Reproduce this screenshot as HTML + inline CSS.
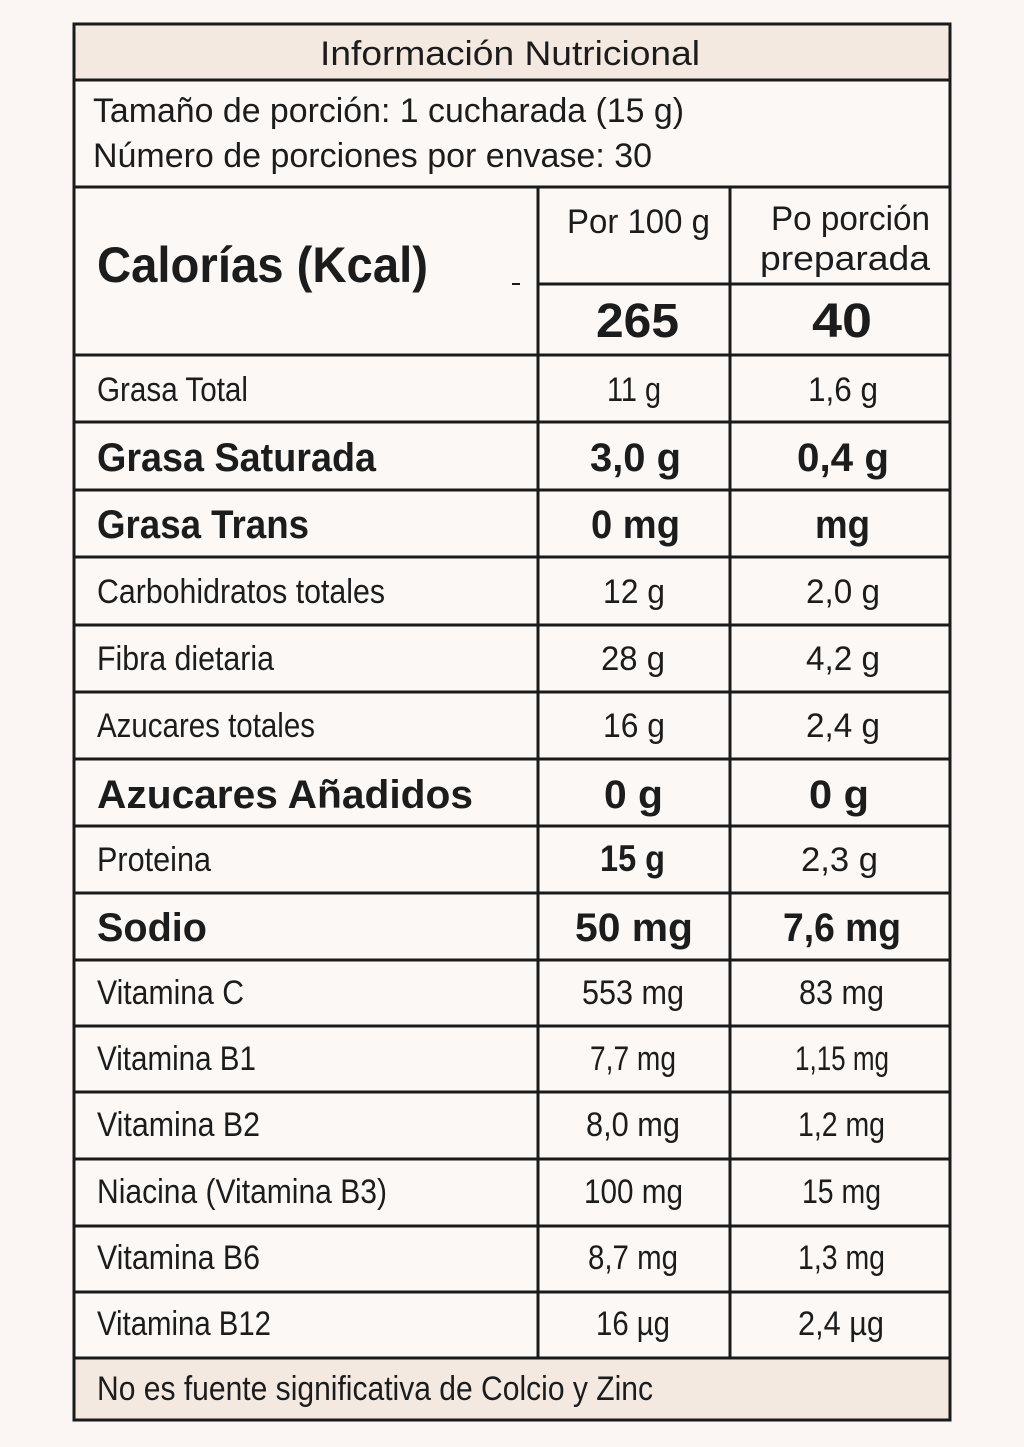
<!DOCTYPE html>
<html><head><meta charset="utf-8"><style>
html,body{margin:0;padding:0;background:#fbf5f3;}
svg{display:block}
text{font-family:"Liberation Sans",sans-serif;fill:#1c1c1c}
.n{font-size:34px}
.b{font-size:40px;font-weight:bold}
</style></head><body>
<svg width="1024" height="1447" viewBox="0 0 1024 1447" xmlns="http://www.w3.org/2000/svg">
<rect x="0" y="0" width="1024" height="1447" fill="#fbf5f3"/>
<rect x="74" y="24" width="876" height="1396" fill="#fcf8f5"/>
<rect x="74" y="24" width="876" height="56" fill="#f3e9e0"/>
<rect x="74" y="1358" width="876" height="62" fill="#f3e9e0"/>
<g stroke="#1a1a1a" stroke-width="3" fill="none">
<rect x="74" y="24" width="876" height="1396"/>
<line x1="74" y1="80" x2="950" y2="80"/>
<line x1="74" y1="187" x2="950" y2="187"/>
<line x1="538" y1="284" x2="950" y2="284"/>
<line x1="538" y1="187" x2="538" y2="1358"/>
<line x1="730" y1="187" x2="730" y2="1358"/>
<line x1="74" y1="355" x2="950" y2="355"/>
<line x1="74" y1="422" x2="950" y2="422"/>
<line x1="74" y1="490" x2="950" y2="490"/>
<line x1="74" y1="557" x2="950" y2="557"/>
<line x1="74" y1="625" x2="950" y2="625"/>
<line x1="74" y1="692" x2="950" y2="692"/>
<line x1="74" y1="759" x2="950" y2="759"/>
<line x1="74" y1="826" x2="950" y2="826"/>
<line x1="74" y1="893" x2="950" y2="893"/>
<line x1="74" y1="960" x2="950" y2="960"/>
<line x1="74" y1="1026" x2="950" y2="1026"/>
<line x1="74" y1="1092" x2="950" y2="1092"/>
<line x1="74" y1="1159" x2="950" y2="1159"/>
<line x1="74" y1="1226" x2="950" y2="1226"/>
<line x1="74" y1="1292" x2="950" y2="1292"/>
<line x1="74" y1="1358" x2="950" y2="1358"/>
<line x1="512" y1="284" x2="520" y2="284" stroke-width="2"/>
</g>
<text class="n" x="320" y="65" textLength="380" lengthAdjust="spacingAndGlyphs">Información Nutricional</text>
<text class="n" x="93" y="122" textLength="591" lengthAdjust="spacingAndGlyphs">Tamaño de porción: 1 cucharada (15 g)</text>
<text class="n" x="93" y="167" textLength="559" lengthAdjust="spacingAndGlyphs">Número de porciones por envase: 30</text>
<text class="b" x="97" y="282" style="font-size:50px" textLength="331" lengthAdjust="spacingAndGlyphs">Calorías (Kcal)</text>
<text class="n" x="567" y="233" textLength="143" lengthAdjust="spacingAndGlyphs">Por 100 g</text>
<text class="n" x="771" y="230" textLength="159" lengthAdjust="spacingAndGlyphs">Po porción</text>
<text class="n" x="760" y="270" textLength="170" lengthAdjust="spacingAndGlyphs">preparada</text>
<text class="b" x="596" y="337" style="font-size:48px" textLength="83" lengthAdjust="spacingAndGlyphs">265</text>
<text class="b" x="812" y="337" style="font-size:48px" textLength="60" lengthAdjust="spacingAndGlyphs">40</text>

<text class="n" x="97" y="401" textLength="151" lengthAdjust="spacingAndGlyphs">Grasa Total</text>
<text class="n" x="607" y="401" textLength="54" lengthAdjust="spacingAndGlyphs">11 g</text>
<text class="n" x="808" y="401" textLength="70" lengthAdjust="spacingAndGlyphs">1,6 g</text>

<text class="b" x="97" y="471" textLength="279" lengthAdjust="spacingAndGlyphs">Grasa Saturada</text>
<text class="b" x="590" y="471" textLength="91" lengthAdjust="spacingAndGlyphs">3,0 g</text>
<text class="b" x="797" y="471" textLength="92" lengthAdjust="spacingAndGlyphs">0,4 g</text>

<text class="b" x="97" y="538" textLength="212" lengthAdjust="spacingAndGlyphs">Grasa Trans</text>
<text class="b" x="591" y="538" textLength="89" lengthAdjust="spacingAndGlyphs">0 mg</text>
<text class="b" x="815" y="538" textLength="55" lengthAdjust="spacingAndGlyphs">mg</text>

<text class="n" x="97" y="603" textLength="288" lengthAdjust="spacingAndGlyphs">Carbohidratos totales</text>
<text class="n" x="603" y="603" textLength="62" lengthAdjust="spacingAndGlyphs">12 g</text>
<text class="n" x="806" y="603" textLength="74" lengthAdjust="spacingAndGlyphs">2,0 g</text>

<text class="n" x="97" y="670" textLength="177" lengthAdjust="spacingAndGlyphs">Fibra dietaria</text>
<text class="n" x="601" y="670" textLength="64" lengthAdjust="spacingAndGlyphs">28 g</text>
<text class="n" x="806" y="670" textLength="74" lengthAdjust="spacingAndGlyphs">4,2 g</text>

<text class="n" x="97" y="737" textLength="218" lengthAdjust="spacingAndGlyphs">Azucares totales</text>
<text class="n" x="603" y="737" textLength="62" lengthAdjust="spacingAndGlyphs">16 g</text>
<text class="n" x="806" y="737" textLength="74" lengthAdjust="spacingAndGlyphs">2,4 g</text>

<text class="b" x="97" y="808" textLength="376" lengthAdjust="spacingAndGlyphs">Azucares  Añadidos</text>
<text class="b" x="604" y="808" textLength="59" lengthAdjust="spacingAndGlyphs">0 g</text>
<text class="b" x="809" y="808" textLength="60" lengthAdjust="spacingAndGlyphs">0 g</text>

<text class="n" x="97" y="871" textLength="114" lengthAdjust="spacingAndGlyphs">Proteina</text>
<text class="b" x="600" y="871" style="font-size:37px" textLength="65" lengthAdjust="spacingAndGlyphs">15 g</text>
<text class="n" x="801" y="871" textLength="77" lengthAdjust="spacingAndGlyphs">2,3 g</text>

<text class="b" x="97" y="941" textLength="110" lengthAdjust="spacingAndGlyphs">Sodio</text>
<text class="b" x="575" y="941" textLength="118" lengthAdjust="spacingAndGlyphs">50 mg</text>
<text class="b" x="783" y="941" textLength="118" lengthAdjust="spacingAndGlyphs">7,6 mg</text>

<text class="n" x="97" y="1004" textLength="147" lengthAdjust="spacingAndGlyphs">Vitamina C</text>
<text class="n" x="582" y="1004" textLength="102" lengthAdjust="spacingAndGlyphs">553 mg</text>
<text class="n" x="799" y="1004" textLength="85" lengthAdjust="spacingAndGlyphs">83 mg</text>

<text class="n" x="97" y="1070" textLength="159" lengthAdjust="spacingAndGlyphs">Vitamina B1</text>
<text class="n" x="590" y="1070" textLength="86" lengthAdjust="spacingAndGlyphs">7,7 mg</text>
<text class="n" x="795" y="1070" textLength="94" lengthAdjust="spacingAndGlyphs">1,15 mg</text>

<text class="n" x="97" y="1136" textLength="163" lengthAdjust="spacingAndGlyphs">Vitamina B2</text>
<text class="n" x="586" y="1136" textLength="94" lengthAdjust="spacingAndGlyphs">8,0 mg</text>
<text class="n" x="798" y="1136" textLength="87" lengthAdjust="spacingAndGlyphs">1,2 mg</text>

<text class="n" x="97" y="1203" textLength="290" lengthAdjust="spacingAndGlyphs">Niacina (Vitamina B3)</text>
<text class="n" x="584" y="1203" textLength="99" lengthAdjust="spacingAndGlyphs">100 mg</text>
<text class="n" x="802" y="1203" textLength="79" lengthAdjust="spacingAndGlyphs">15 mg</text>

<text class="n" x="97" y="1269" textLength="163" lengthAdjust="spacingAndGlyphs">Vitamina B6</text>
<text class="n" x="588" y="1269" textLength="90" lengthAdjust="spacingAndGlyphs">8,7 mg</text>
<text class="n" x="798" y="1269" textLength="87" lengthAdjust="spacingAndGlyphs">1,3 mg</text>

<text class="n" x="97" y="1335" textLength="174" lengthAdjust="spacingAndGlyphs">Vitamina B12</text>
<text class="n" x="596" y="1335" textLength="74" lengthAdjust="spacingAndGlyphs">16 µg</text>
<text class="n" x="798" y="1335" textLength="86" lengthAdjust="spacingAndGlyphs">2,4 µg</text>

<text class="n" x="97" y="1400" textLength="556" lengthAdjust="spacingAndGlyphs">No es fuente significativa de Colcio y Zinc</text>
</svg>
</body></html>
